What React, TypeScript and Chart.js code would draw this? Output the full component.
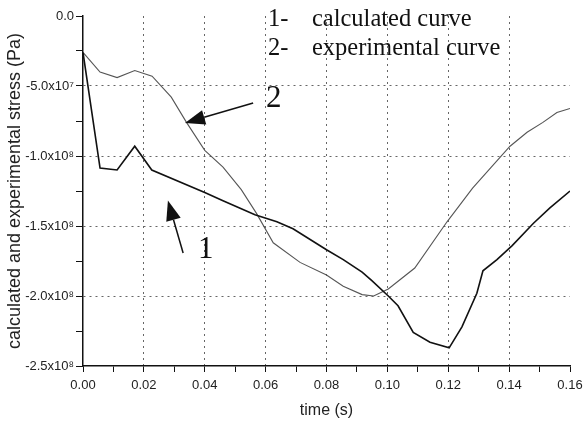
import { useEffect, useRef } from "react";
import { Chart, registerables } from "chart.js";

Chart.register(...registerables);

// Curve 1: calculated stress (Pa) against time (s)
const timeCalc = [
  0, 0.0056, 0.0112, 0.017, 0.0226, 0.04, 0.046, 0.0565, 0.0637, 0.069, 0.08,
  0.0855, 0.0917, 0.0949, 0.1003, 0.1035, 0.1085, 0.114, 0.1203, 0.1245,
  0.1294, 0.1314, 0.136, 0.141, 0.148, 0.1534, 0.16,
];
const stressCalc = [
  -2.6e7, -1.086e8, -1.1e8, -9.3e7, -1.1e8, -1.26e8, -1.32e8, -1.42e8,
  -1.47e8, -1.52e8, -1.67e8, -1.74e8, -1.83e8, -1.89e8, -2.0e8, -2.07e8,
  -2.26e8, -2.33e8, -2.37e8, -2.22e8, -1.98e8, -1.82e8, -1.74e8, -1.64e8,
  -1.48e8, -1.37e8, -1.25e8,
];

// Curve 2: experimental stress (Pa) against time (s)
const timeExp = [
  0, 0.0056, 0.0112, 0.017, 0.0227, 0.029, 0.034, 0.04, 0.046, 0.052, 0.057,
  0.0625, 0.0713, 0.08, 0.0855, 0.0917, 0.0955, 0.1003, 0.109, 0.1196, 0.128,
  0.137, 0.1403, 0.1459, 0.1511, 0.1557, 0.16,
];
const stressExp = [
  -2.6e7, -4.0e7, -4.4e7, -3.9e7, -4.3e7, -5.8e7, -7.6e7, -9.6e7, -1.08e8,
  -1.24e8, -1.41e8, -1.62e8, -1.76e8, -1.85e8, -1.93e8, -1.99e8, -2.0e8,
  -1.95e8, -1.8e8, -1.47e8, -1.23e8, -1.01e8, -9.3e7, -8.3e7, -7.6e7, -6.9e7,
  -6.6e7,
];

// Axis ticks (minor ticks carry an empty label)
const xTickValues = [
  0, 0.01, 0.02, 0.03, 0.04, 0.05, 0.06, 0.07, 0.08, 0.09, 0.1, 0.11, 0.12,
  0.13, 0.14, 0.15, 0.16,
];
const xTickLabels = [
  "0.00", "", "0.02", "", "0.04", "", "0.06", "", "0.08", "", "0.10", "",
  "0.12", "", "0.14", "", "0.16",
];
const yTickValues = [
  0, -2.5e7, -5e7, -7.5e7, -1e8, -1.25e8, -1.5e8, -1.75e8, -2e8, -2.25e8,
  -2.5e8,
];
const yTickLabels = [
  "0.0", "", "-5.0x10\u2077", "", "-1.0x10\u2078", "", "-1.5x10\u2078", "",
  "-2.0x10\u2078", "", "-2.5x10\u2078",
];

// Key text in the upper right corner
const curveNumbers = ["1-", "2-"];
const curveNames = ["calculated curve", "experimental curve"];
const keyTime = [0.0608, 0.0752];
const keyStress = [-7.2e6, -2.75e7];

// Pointer arrows naming each curve: [tail time, tail stress, tip time, tip stress]
const arrowCalc = [0.0329, -1.693e8, 0.0279, -1.318e8];
const arrowExp = [0.0559, -6.21e7, 0.0335, -7.64e7];
const arrowLabels = ["1", "2"];
const arrowLabelTime = [0.0378, 0.0601];
const arrowLabelStress = [-1.729e8, -6.5e7];

const SANS = "'Liberation Sans', Arial, sans-serif";
const SERIF = "'Liberation Serif', 'Times New Roman', serif";

const labelFor = (values: number[], labels: string[], v: number) => {
  const i = values.findIndex((t) => Math.abs(t - v) < 1e-9 * Math.max(1, Math.abs(t)));
  return i >= 0 ? labels[i] : "";
};

const annotations = {
  id: "curveAnnotations",
  afterDraw(chart: any) {
    const { ctx, scales } = chart;
    const x = scales.x;
    const y = scales.y;
    const px = (t: number) => x.getPixelForValue(t);
    const py = (v: number) => y.getPixelForValue(v);

    ctx.save();
    ctx.fillStyle = "#111";
    ctx.textBaseline = "alphabetic";
    ctx.textAlign = "left";

    // key
    ctx.font = `24.5px ${SERIF}`;
    for (let i = 0; i < curveNumbers.length; i++) {
      ctx.fillText(curveNumbers[i], px(keyTime[0]), py(keyStress[i]));
      ctx.fillText(curveNames[i], px(keyTime[1]), py(keyStress[i]));
    }

    // arrows
    const drawArrow = (a: number[]) => {
      const x1 = px(a[0]);
      const y1 = py(a[1]);
      const x2 = px(a[2]);
      const y2 = py(a[3]);
      const ang = Math.atan2(y2 - y1, x2 - x1);
      const headLen = 20;
      const headHalf = 7.5;
      const bx = x2 - headLen * Math.cos(ang);
      const by = y2 - headLen * Math.sin(ang);
      ctx.strokeStyle = "#111";
      ctx.lineWidth = 1.5;
      ctx.beginPath();
      ctx.moveTo(x1, y1);
      ctx.lineTo(bx, by);
      ctx.stroke();
      ctx.beginPath();
      ctx.moveTo(x2, y2);
      ctx.lineTo(bx + headHalf * Math.sin(ang), by - headHalf * Math.cos(ang));
      ctx.lineTo(bx - headHalf * Math.sin(ang), by + headHalf * Math.cos(ang));
      ctx.closePath();
      ctx.fill();
    };
    drawArrow(arrowCalc);
    drawArrow(arrowExp);

    ctx.font = `31px ${SERIF}`;
    for (let i = 0; i < arrowLabels.length; i++) {
      ctx.fillText(arrowLabels[i], px(arrowLabelTime[i]), py(arrowLabelStress[i]));
    }
    ctx.restore();
  },
};

export default function App() {
  const canvasRef = useRef<HTMLCanvasElement | null>(null);

  useEffect(() => {
    const canvas = canvasRef.current;
    if (!canvas) return;

    const chart = new Chart(canvas, {
      type: "line",
      data: {
        datasets: [
          {
            label: "calculated curve",
            data: timeCalc.map((t, i) => ({ x: t, y: stressCalc[i] })),
            borderColor: "#111",
            borderWidth: 1.6,
            pointRadius: 0,
            tension: 0,
            fill: false,
          },
          {
            label: "experimental curve",
            data: timeExp.map((t, i) => ({ x: t, y: stressExp[i] })),
            borderColor: "#555",
            borderWidth: 1.1,
            pointRadius: 0,
            tension: 0,
            fill: false,
          },
        ],
      },
      options: {
        animation: false,
        responsive: false,
        devicePixelRatio: 1,
        layout: { padding: { top: 16, right: 16, left: 0, bottom: 0 } },
        plugins: {
          legend: { display: false },
          tooltip: { enabled: false },
        },
        scales: {
          x: {
            type: "linear",
            min: 0,
            max: 0.16,
            afterBuildTicks: (scale: any) => {
              scale.ticks = xTickValues.map((v) => ({ value: v }));
            },
            afterFit: (scale: any) => {
              scale.height = 57;
              scale.paddingLeft = 0;
              scale.paddingRight = 0;
            },
            ticks: {
              autoSkip: false,
              maxRotation: 0,
              padding: 6,
              color: "#222",
              font: { family: SANS, size: 13 },
              callback: (v: any) => labelFor(xTickValues, xTickLabels, Number(v)),
            },
            grid: {
              color: (c: any) => {
                const v = c.tick ? c.tick.value : 0;
                const k = Math.round(v * 100);
                return k % 2 === 0 && k !== 0 && k !== 16 ? "#666" : "rgba(0,0,0,0)";
              },
              tickColor: "#111",
              tickLength: 6,
              lineWidth: 1,
            },
            border: { color: "#111", width: 1.5, dash: [2, 4] },
            title: {
              display: true,
              text: "time (s)",
              color: "#222",
              font: { family: SANS, size: 16 },
              padding: { top: 0, bottom: 3 },
            },
          },
          y: {
            type: "linear",
            min: -2.5e8,
            max: 0,
            afterBuildTicks: (scale: any) => {
              scale.ticks = yTickValues.map((v) => ({ value: v }));
            },
            afterFit: (scale: any) => {
              scale.width = 83;
              scale.paddingTop = 0;
              scale.paddingBottom = 0;
            },
            ticks: {
              autoSkip: false,
              padding: 2,
              color: "#222",
              font: { family: SANS, size: 13 },
              callback: (v: any) => labelFor(yTickValues, yTickLabels, Number(v)),
            },
            grid: {
              color: (c: any) => {
                const v = c.tick ? c.tick.value : 0;
                const k = Math.round(-v / 2.5e7);
                return k % 2 === 0 && k !== 0 && k !== 10 ? "#666" : "rgba(0,0,0,0)";
              },
              tickColor: "#111",
              tickLength: 7,
              lineWidth: 1,
            },
            border: { color: "#111", width: 1.5, dash: [2, 4] },
            title: {
              display: true,
              text: "calculated and experimental stress (Pa)",
              color: "#222",
              font: { family: SANS, size: 18 },
              padding: { top: 4, bottom: 0 },
            },
          },
        },
      },
      plugins: [annotations],
    } as any);

    return () => chart.destroy();
  }, []);

  return (
    <div
      style={{
        position: "absolute",
        left: 0,
        top: 0,
        width: 586,
        height: 423,
        background: "#fff",
      }}
    >
      <canvas ref={canvasRef} width={586} height={423} style={{ display: "block" }} />
    </div>
  );
}
